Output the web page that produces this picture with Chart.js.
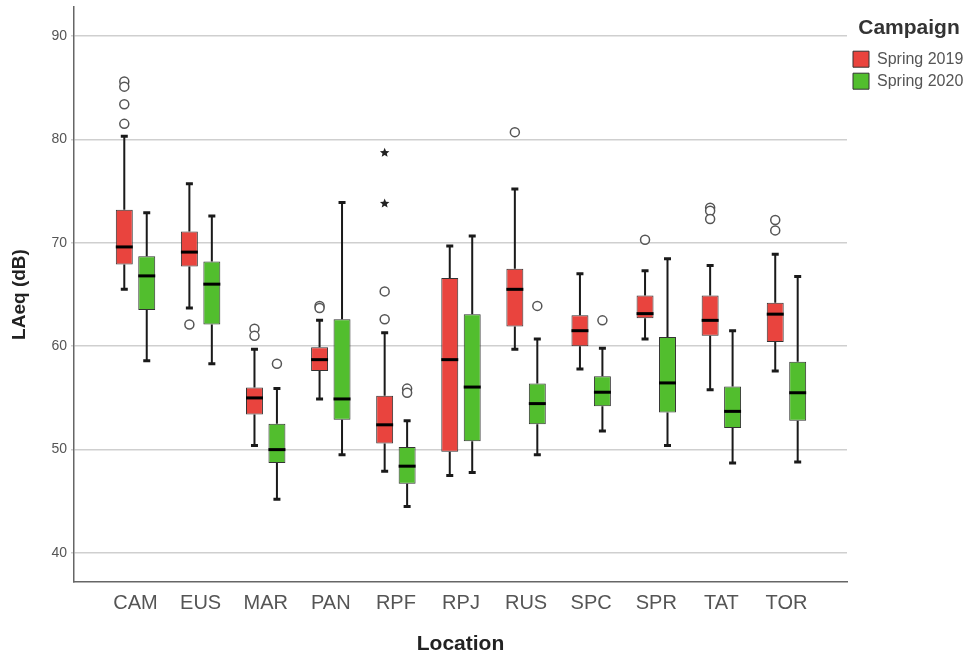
<!DOCTYPE html>
<html>
<head>
<meta charset="utf-8">
<script src="https://cdn.jsdelivr.net/npm/chart.js@4.4.1/dist/chart.umd.min.js"></script>
<style>
  html, body { margin: 0; padding: 0; background: #fff; }
  #wrap { width: 971px; height: 657px; }
</style>
</head>
<body>
<div id="wrap"><canvas id="boxChart" width="971" height="657"></canvas></div>
<script>
// Locations (x categories)
const locations = ['CAM', 'EUS', 'MAR', 'PAN', 'RPF', 'RPJ', 'RUS', 'SPC', 'SPR', 'TAT', 'TOR'];

// Spring 2019 box stats (LAeq dB)
const min2019 = [65.5, 63.7, 50.4, 54.9, 47.9, 47.5, 59.7, 57.8, 60.7, 55.8, 57.6];
const q1_2019 = [67.9, 67.7, 53.4, 57.6, 50.6, 49.8, 61.9, 60.0, 62.7, 61.0, 60.4];
const med2019 = [69.6, 69.1, 55.0, 58.7, 52.4, 58.7, 65.5, 61.5, 63.15, 62.5, 63.1];
const q3_2019 = [73.2, 71.1, 56.0, 59.9, 55.2, 66.6, 67.5, 63.0, 64.9, 64.9, 64.2];
const max2019 = [80.3, 75.7, 59.7, 62.5, 61.3, 69.7, 75.2, 67.0, 67.3, 67.8, 68.9];
const out2019 = [[85.6, 85.1, 83.4, 81.5], [62.1], [61.7, 61.0], [63.9, 63.7], [65.3, 62.6], [], [80.7], [], [70.3], [73.4, 73.1, 72.3], [72.2, 71.2]];
const ext2019 = [[], [], [], [], [78.7, 73.8], [], [], [], [], [], []];

// Spring 2020 box stats (LAeq dB)
const min2020 = [58.6, 58.3, 45.2, 49.5, 44.5, 47.8, 49.5, 51.8, 50.4, 48.7, 48.8];
const q1_2020 = [63.5, 62.1, 48.7, 52.9, 46.7, 50.8, 52.45, 54.2, 53.6, 52.1, 52.8];
const med2020 = [66.8, 66.0, 50.0, 54.9, 48.4, 56.05, 54.45, 55.55, 56.45, 53.7, 55.5];
const q3_2020 = [68.7, 68.2, 52.5, 62.6, 50.25, 63.1, 56.4, 57.1, 60.9, 56.1, 58.5];
const max2020 = [72.9, 72.6, 55.9, 73.9, 52.8, 70.65, 60.7, 59.8, 68.45, 61.5, 66.75];
const out2020 = [[], [], [58.3], [], [55.9, 55.5], [], [63.9], [62.5], [], [], []];
const ext2020 = [[], [], [], [], [], [], [], [], [], [], []];

// y axis ticks
const yTicks = [40, 50, 60, 70, 80, 90];

const stats = [
  { min: min2019, q1: q1_2019, med: med2019, q3: q3_2019, max: max2019, out: out2019, ext: ext2019 },
  { min: min2020, q1: q1_2020, med: med2020, q3: q3_2020, max: max2020, out: out2020, ext: ext2020 }
];

function boxData(q1, q3) {
  return locations.map((_, i) => ({ x: i, y: [q1[i], q3[i]] }));
}

function drawStar(ctx, x, y, r) {
  ctx.beginPath();
  for (let k = 0; k < 10; k++) {
    const rad = k % 2 === 0 ? r : r * 0.45;
    const a = -Math.PI / 2 + k * Math.PI / 5;
    const px = x + rad * Math.cos(a);
    const py = y + rad * Math.sin(a);
    if (k === 0) ctx.moveTo(px, py); else ctx.lineTo(px, py);
  }
  ctx.closePath();
  ctx.fill();
}

// whiskers, medians and outliers on top of the floating bars
const boxPlotPlugin = {
  id: 'boxPlot',
  afterDatasetsDraw(chart) {
    const ctx = chart.ctx;
    const yScale = chart.scales.y;
    ctx.save();
    stats.forEach((s, d) => {
      const meta = chart.getDatasetMeta(d);
      if (meta.hidden) return;
      meta.data.forEach((bar, i) => {
        const x = bar.x;
        const w = bar.width;
        const yMin = yScale.getPixelForValue(s.min[i]);
        const yQ1 = yScale.getPixelForValue(s.q1[i]);
        const yQ3 = yScale.getPixelForValue(s.q3[i]);
        const yMax = yScale.getPixelForValue(s.max[i]);
        const yMed = yScale.getPixelForValue(s.med[i]);

        ctx.strokeStyle = '#1a1a1a';
        ctx.lineWidth = 2;
        ctx.beginPath();
        ctx.moveTo(x, yQ3); ctx.lineTo(x, yMax);
        ctx.moveTo(x, yQ1); ctx.lineTo(x, yMin);
        ctx.stroke();

        ctx.lineWidth = 3;
        ctx.beginPath();
        ctx.moveTo(x - 3.5, yMax); ctx.lineTo(x + 3.5, yMax);
        ctx.moveTo(x - 3.5, yMin); ctx.lineTo(x + 3.5, yMin);
        ctx.stroke();

        ctx.strokeStyle = '#000';
        ctx.lineWidth = 3;
        ctx.beginPath();
        ctx.moveTo(x - w / 2, yMed); ctx.lineTo(x + w / 2, yMed);
        ctx.stroke();

        ctx.strokeStyle = '#555';
        ctx.lineWidth = 1.5;
        ctx.fillStyle = '#fff';
        s.out[i].forEach(v => {
          ctx.beginPath();
          ctx.arc(x, yScale.getPixelForValue(v), 4.5, 0, Math.PI * 2);
          ctx.fill();
          ctx.stroke();
        });

        ctx.fillStyle = '#222';
        s.ext[i].forEach(v => drawStar(ctx, x, yScale.getPixelForValue(v), 5));
      });
    });
    ctx.restore();
  }
};

const ctx = document.getElementById('boxChart').getContext('2d');
new Chart(ctx, {
  type: 'bar',
  data: {
    datasets: [
      {
        label: 'Spring 2019',
        data: boxData(q1_2019, q3_2019),
        backgroundColor: '#E9443E',
        borderColor: '#333',
        borderWidth: 1,
        borderSkipped: false
      },
      {
        label: 'Spring 2020',
        data: boxData(q1_2020, q3_2020),
        backgroundColor: '#52BE2E',
        borderColor: '#333',
        borderWidth: 1,
        borderSkipped: false
      }
    ]
  },
  options: {
    responsive: false,
    animation: false,
    categoryPercentage: 0.69,
    barPercentage: 0.755,
    layout: { padding: { top: 7, right: 0, bottom: 0, left: 0 } },
    plugins: {
      tooltip: { enabled: false },
      legend: {
        position: 'right',
        align: 'start',
        maxWidth: 124,
        title: {
          display: true,
          text: 'Campaign',
          color: '#333',
          font: { family: 'Liberation Sans, Arial, sans-serif', size: 21, weight: 'bold' },
          padding: { top: 11, bottom: 2 }
        },
        labels: {
          boxWidth: 16,
          boxHeight: 16,
          padding: 6,
          color: '#555',
          font: { family: 'Liberation Sans, Arial, sans-serif', size: 16 }
        }
      }
    },
    scales: {
      x: {
        type: 'linear',
        offset: false,
        min: -0.945,
        max: 10.93,
        afterBuildTicks: (scale) => {
          scale.ticks = locations.map((_, i) => ({ value: i }));
        },
        afterFit: (scale) => { scale.height = 75; },
        grid: { display: false, drawTicks: false },
        border: { display: true, color: '#666', width: 1.5 },
        ticks: {
          autoSkip: false,
          maxRotation: 0,
          padding: 9,
          color: '#555',
          font: { family: 'Liberation Sans, Arial, sans-serif', size: 20 },
          callback: (v) => locations[v]
        },
        title: {
          display: true,
          text: 'Location',
          color: '#222',
          font: { family: 'Liberation Sans, Arial, sans-serif', size: 21, weight: 'bold' },
          padding: { top: 0, bottom: 0 }
        }
      },
      y: {
        min: 37.2,
        max: 92.8,
        afterBuildTicks: (scale) => {
          scale.ticks = yTicks.map(v => ({ value: v }));
        },
        afterFit: (scale) => {
          scale.width = 74;
          scale.paddingTop = 0;
          scale.paddingBottom = 0;
        },
        grid: { color: '#cfcfcf', lineWidth: 1.5, tickLength: 3, drawTicks: true },
        border: { display: true, color: '#666', width: 1.5 },
        ticks: {
          padding: 4,
          color: '#555',
          font: { family: 'Liberation Sans, Arial, sans-serif', size: 14 }
        },
        title: {
          display: true,
          text: 'LAeq (dB)',
          color: '#222',
          font: { family: 'Liberation Sans, Arial, sans-serif', size: 19, weight: 'bold' },
          padding: { top: 8, bottom: 0 }
        }
      }
    }
  },
  plugins: [boxPlotPlugin]
});
</script>
</body>
</html>
